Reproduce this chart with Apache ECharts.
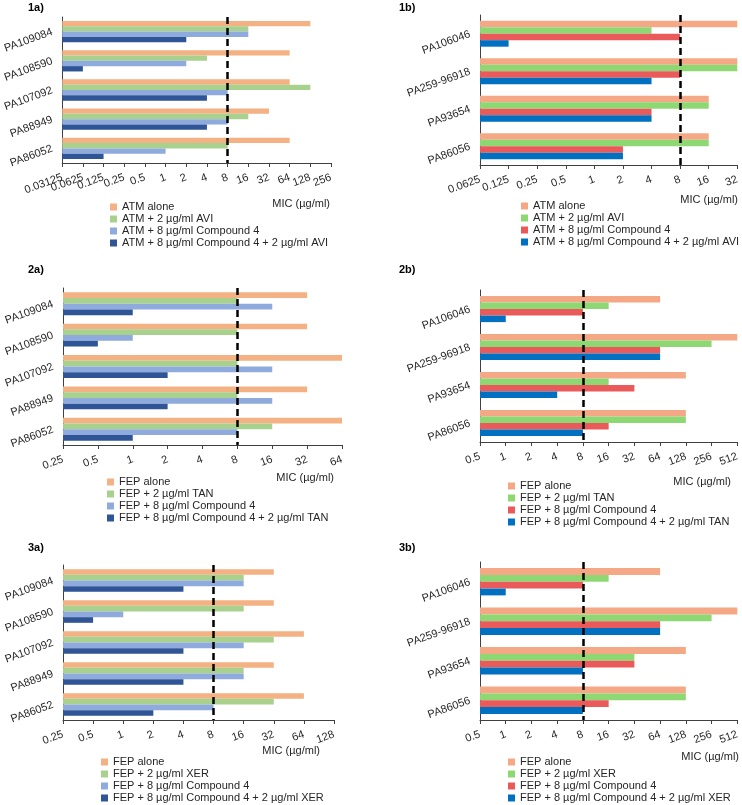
<!DOCTYPE html>
<html>
<head>
<meta charset="utf-8">
<script src="https://cdn.jsdelivr.net/npm/echarts@6/dist/echarts.min.js"></script>
<style>
  body { margin: 0; background: #fff; overflow: hidden; }
  .panel { position: absolute; width: 371px; }
</style>
</head>
<body>
<div id="p1a" class="panel" style="left:0;top:0;height:262px"></div>
<div id="p1b" class="panel" style="left:371px;top:0;height:262px"></div>
<div id="p2a" class="panel" style="left:0;top:262px;height:272px"></div>
<div id="p2b" class="panel" style="left:371px;top:262px;height:272px"></div>
<div id="p3a" class="panel" style="left:0;top:534px;height:300px"></div>
<div id="p3b" class="panel" style="left:371px;top:534px;height:300px"></div>
<script>
// strains, top to bottom
const leftStrains = ['PA109084', 'PA108590', 'PA107092', 'PA88949', 'PA86052']
const rightStrains = ['PA106046', 'PA259-96918', 'PA93654', 'PA86056']

// MIC values (µg/ml), one per strain
const atmAlone1a = [128, 64, 64, 32, 64]
const atmAvi1a = [16, 4, 128, 16, 8]
const atmCmp1a = [16, 2, 8, 8, 1]
const atmCmpAvi1a = [2, 0.0625, 4, 4, 0.125]

const atmAlone1b = [32, 32, 16, 16]
const atmAvi1b = [4, 32, 16, 16]
const atmCmp1b = [8, 8, 4, 2]
const atmCmpAvi1b = [0.125, 4, 4, 2]

const fepAlone2a = [32, 32, 64, 32, 64]
const fepTan2a = [8, 8, 8, 8, 16]
const fepCmp2a = [16, 1, 16, 16, 8]
const fepCmpTan2a = [1, 0.5, 2, 2, 1]

const fepAlone2b = [64, 512, 128, 128]
const fepTan2b = [16, 256, 16, 128]
const fepCmp2b = [8, 64, 32, 16]
const fepCmpTan2b = [1, 64, 4, 8]

const fepAlone3a = [32, 32, 64, 32, 64]
const fepXer3a = [16, 16, 32, 16, 32]
const fepCmp3a = [16, 1, 16, 16, 8]
const fepCmpXer3a = [4, 0.5, 4, 4, 2]

const fepAlone3b = [64, 512, 128, 128]
const fepXer3b = [16, 256, 32, 128]
const fepCmp3b = [8, 64, 32, 16]
const fepCmpXer3b = [1, 64, 8, 8]

// x tick labels (doubling dilutions, log2 scale)
const ticks1a = ['0.03125', '0.0625', '0.125', '0.25', '0.5', '1', '2', '4', '8', '16', '32', '64', '128', '256']
const ticks1b = ['0.0625', '0.125', '0.25', '0.5', '1', '2', '4', '8', '16', '32']
const ticks2a = ['0.25', '0.5', '1', '2', '4', '8', '16', '32', '64']
const ticks2b = ['0.5', '1', '2', '4', '8', '16', '32', '64', '128', '256', '512']
const ticks3a = ['0.25', '0.5', '1', '2', '4', '8', '16', '32', '64', '128']
const ticks3b = ['0.5', '1', '2', '4', '8', '16', '32', '64', '128', '256', '512']

const breakpoint = 8

const namesAvi = ['ATM alone', 'ATM + 2 µg/ml AVI', 'ATM + 8 µg/ml Compound 4', 'ATM + 8 µg/ml Compound 4 + 2 µg/ml AVI']
const namesTan = ['FEP alone', 'FEP + 2 µg/ml TAN', 'FEP + 8 µg/ml Compound 4', 'FEP + 8 µg/ml Compound 4 + 2 µg/ml TAN']
const namesXer = ['FEP alone', 'FEP + 2 µg/ml XER', 'FEP + 8 µg/ml Compound 4', 'FEP + 8 µg/ml Compound 4 + 2 µg/ml XER']

const leftColors = ['#F4B183', '#A9D18E', '#8FAADC', '#2F5597']
const rightColors = ['#F5A886', '#8ED873', '#EA5A5A', '#0070C0']

const FONT = `'Liberation Sans', Arial, sans-serif`
const TXT = '#262626'

const panels = [
  {
    id: 'p1a', title: '1a)', titleTop: 2, strains: leftStrains, ticks: ticks1a, names: namesAvi, colors: leftColors,
    values: [atmAlone1a, atmAvi1a, atmCmp1a, atmCmpAvi1a],
    grid: { left: 61, width: 270, top: 17, height: 146 }, gap: '27%',
    legend: { left: 110, top: 201 }, mic: { right: 41, top: 198 }
  },
  {
    id: 'p1b', title: '1b)', titleTop: 2, strains: rightStrains, ticks: ticks1b, names: namesAvi, colors: rightColors,
    values: [atmAlone1b, atmAvi1b, atmCmp1b, atmCmpAvi1b],
    grid: { left: 109, width: 260, top: 15, height: 150 }, gap: '31%',
    legend: { left: 150, top: 200 }, mic: { right: 4, top: 194 }
  },
  {
    id: 'p2a', title: '2a)', titleTop: 2, strains: leftStrains, ticks: ticks2a, names: namesTan, colors: leftColors,
    values: [fepAlone2a, fepTan2a, fepCmp2a, fepCmpTan2a],
    grid: { left: 63, width: 279, top: 26, height: 157 }, gap: '27%',
    legend: { left: 107, top: 214 }, mic: { right: 37, top: 210 }
  },
  {
    id: 'p2b', title: '2b)', titleTop: 2, strains: rightStrains, ticks: ticks2b, names: namesTan, colors: rightColors,
    values: [fepAlone2b, fepTan2b, fepCmp2b, fepCmpTan2b],
    grid: { left: 109, width: 260, top: 28, height: 152 }, gap: '31%',
    legend: { left: 137, top: 218 }, mic: { right: 11, top: 214 }
  },
  {
    id: 'p3a', title: '3a)', titleTop: 8, strains: leftStrains, ticks: ticks3a, names: namesXer, colors: leftColors,
    values: [fepAlone3a, fepXer3a, fepCmp3a, fepCmpXer3a],
    grid: { left: 63, width: 271, top: 31, height: 155 }, gap: '27%',
    legend: { left: 101, top: 222 }, mic: { right: 51, top: 211 }
  },
  {
    id: 'p3b', title: '3b)', titleTop: 8, strains: rightStrains, ticks: ticks3b, names: namesXer, colors: rightColors,
    values: [fepAlone3b, fepXer3b, fepCmp3b, fepCmpXer3b],
    grid: { left: 109, width: 260, top: 28, height: 158 }, gap: '31%',
    legend: { left: 137, top: 222 }, mic: { right: 3, top: 217 }
  }
]

function buildOption (p) {
  // bars are drawn in log2 steps above the first tick
  const lmin = Math.log2(Number(p.ticks[0]))
  const toX = v => Math.log2(v) - lmin
  const axisColor = '#404040'
  return {
    animation: false,
    textStyle: { fontFamily: FONT },
    title: [
      { text: p.title, left: 28, top: p.titleTop, padding: 0, textStyle: { fontFamily: FONT, fontSize: 11, fontWeight: 'bold', color: '#000' } },
      { text: 'MIC (µg/ml)', right: p.mic.right, top: p.mic.top, padding: 0, textStyle: { fontFamily: FONT, fontSize: 11, fontWeight: 'normal', color: TXT } }
    ],
    legend: {
      orient: 'vertical',
      left: p.legend.left,
      top: p.legend.top,
      padding: 0,
      itemWidth: 7,
      itemHeight: 7,
      itemGap: 0,
      icon: 'rect',
      selectedMode: false,
      textStyle: { fontFamily: FONT, fontSize: 11, lineHeight: 12, color: TXT },
      data: p.names
    },
    grid: p.grid,
    xAxis: [
      {
        type: 'value',
        min: 0,
        max: p.ticks.length - 1,
        interval: 1,
        splitLine: { show: false },
        axisLine: { show: true, lineStyle: { color: axisColor, width: 1 } },
        axisTick: { show: true, length: 4, lineStyle: { color: axisColor } },
        axisLabel: { show: false }
      },
      {
        // label-only axis so every dilution label is kept
        type: 'category',
        position: 'bottom',
        boundaryGap: false,
        data: p.ticks,
        axisLine: { show: false },
        axisTick: { show: false },
        splitLine: { show: false },
        axisLabel: { interval: 0, rotate: 20, margin: 14, fontSize: 11, color: TXT, fontFamily: FONT }
      }
    ],
    yAxis: {
      type: 'category',
      inverse: true,
      data: p.strains,
      axisLine: { show: true, lineStyle: { color: axisColor, width: 1 } },
      axisTick: { show: false },
      axisLabel: { rotate: 20, margin: 10, fontSize: 11, color: TXT, fontFamily: FONT }
    },
    series: p.values.map((vals, i) => ({
      name: p.names[i],
      type: 'bar',
      xAxisIndex: 0,
      data: vals.map(toX),
      barGap: '0%',
      barCategoryGap: p.gap,
      itemStyle: { color: p.colors[i] },
      markLine: i === 0 ? {
        silent: true,
        symbol: ['none', 'none'],
        label: { show: false },
        lineStyle: { color: '#000', type: [7, 4], width: 2.5 },
        data: [{ xAxis: toX(breakpoint) }]
      } : undefined
    }))
  }
}

panels.forEach(p => {
  const chart = echarts.init(document.getElementById(p.id))
  chart.setOption(buildOption(p))
})
</script>
</body>
</html>
